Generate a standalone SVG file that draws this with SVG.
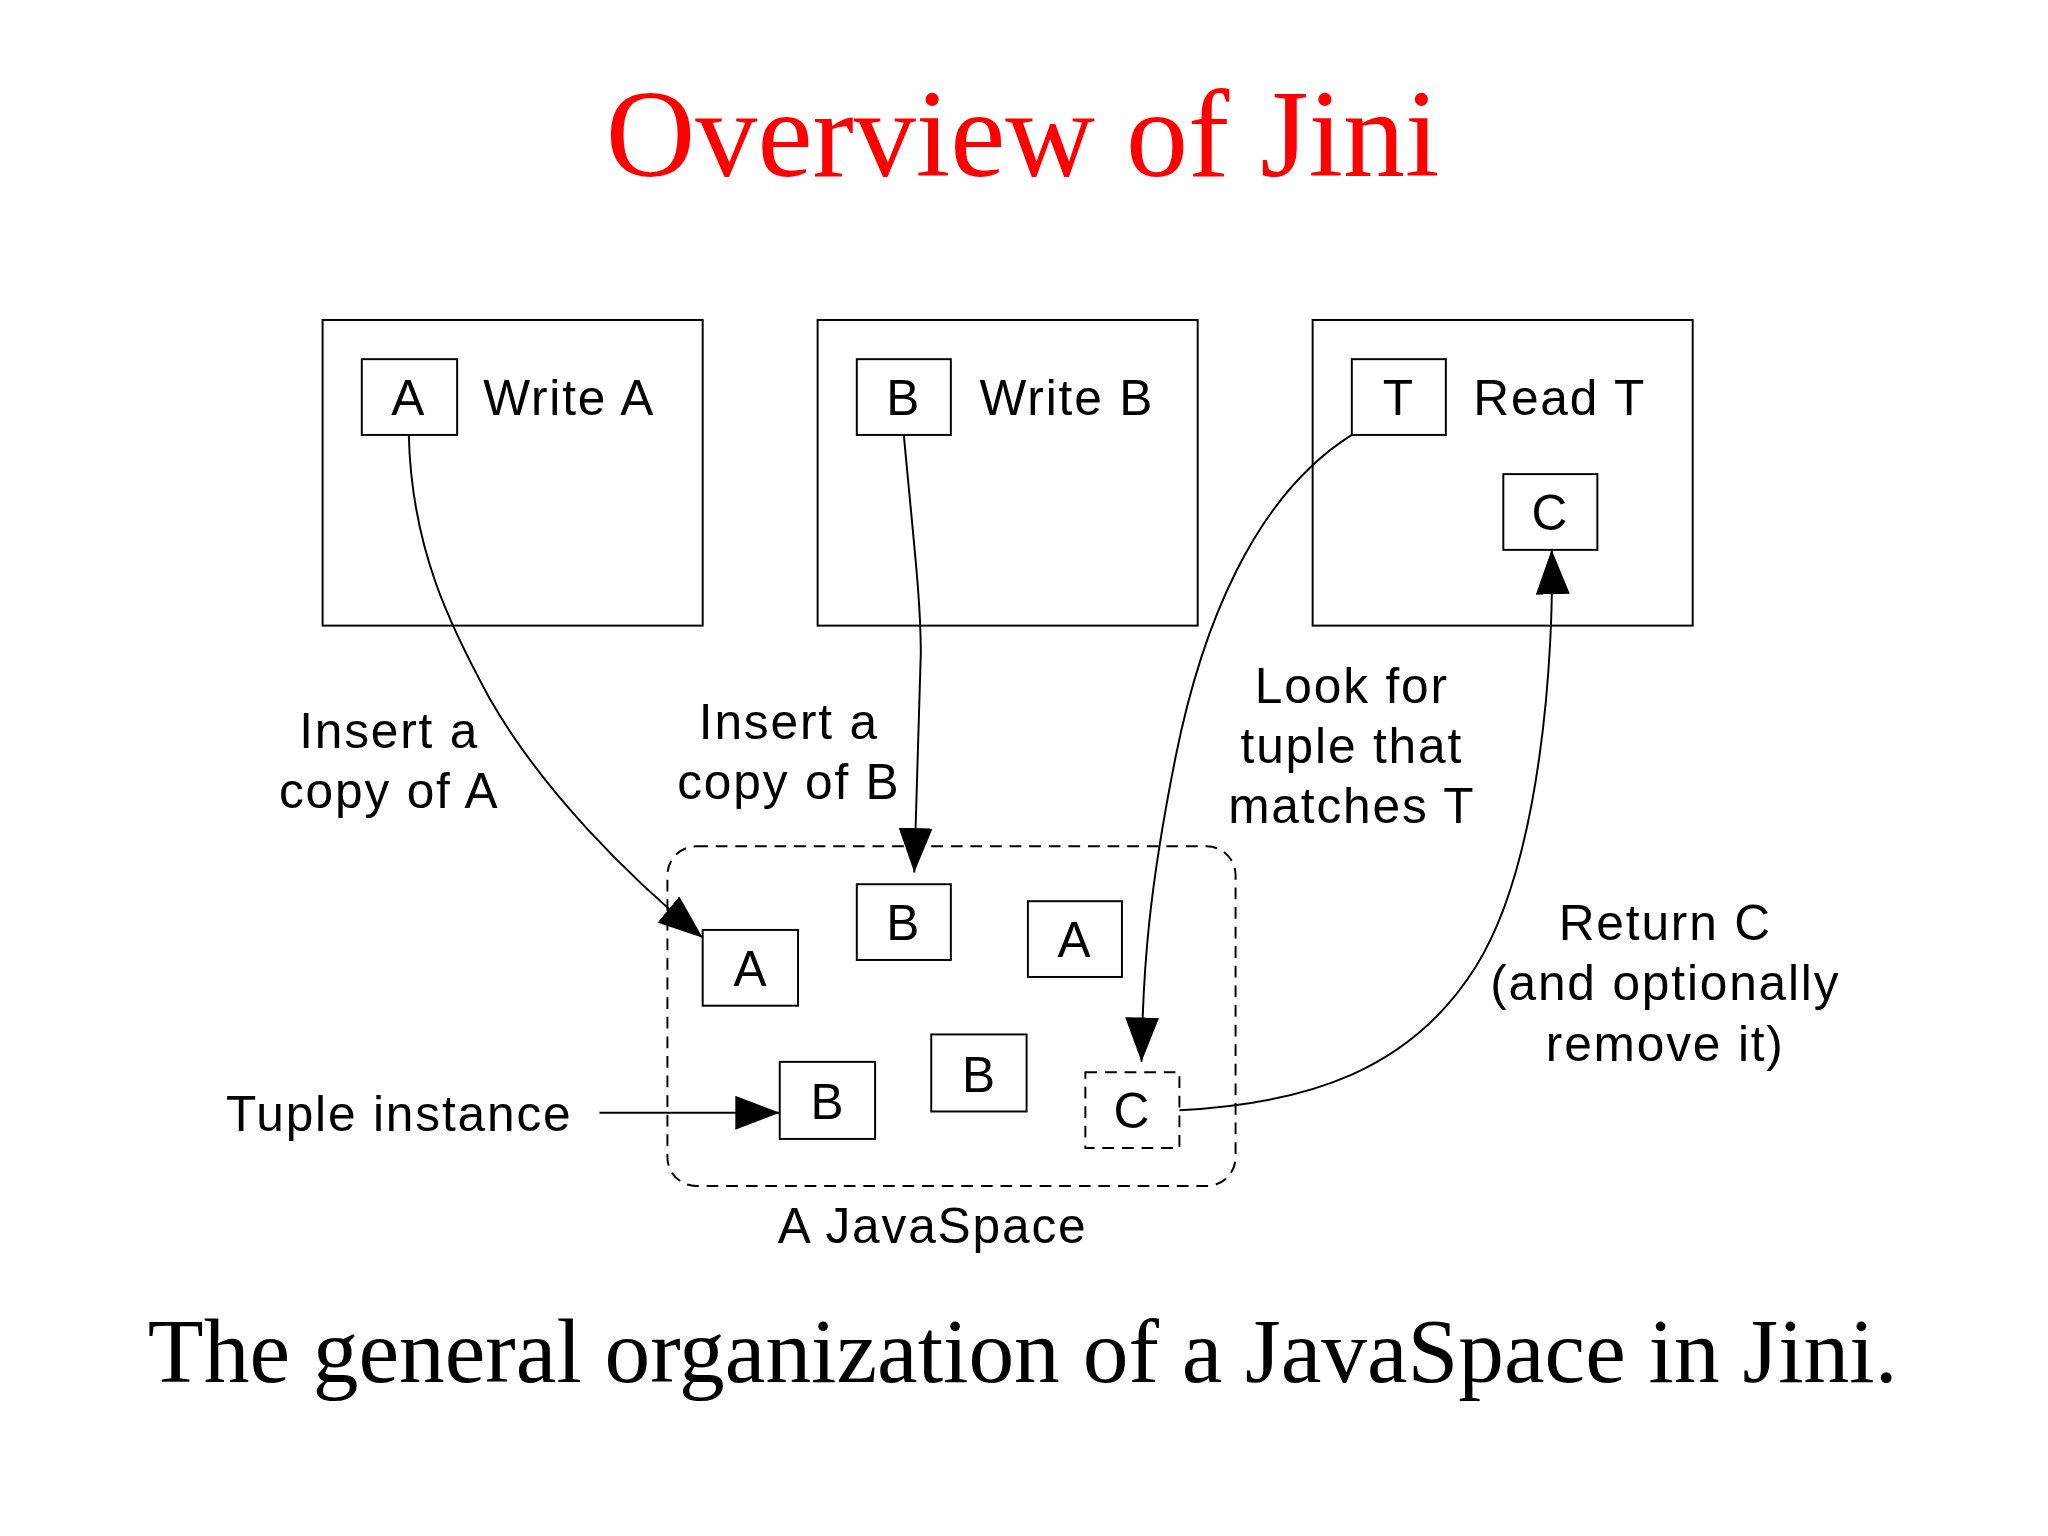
<svg xmlns="http://www.w3.org/2000/svg" width="2048" height="1536" viewBox="0 0 2048 1536">
<style>
.bx{fill:#fff;stroke:#000;stroke-width:1.5}
.ds{fill:none;stroke:#000;stroke-width:1.5;stroke-dasharray:9,6}
.t{font-family:"Liberation Sans",Arial,sans-serif;font-size:38px;letter-spacing:1.4px;fill:#000}
.c{text-anchor:middle}
.ln{fill:none;stroke:#000;stroke-width:1.5}
</style>
<defs>
<marker id="ah" markerUnits="userSpaceOnUse" markerWidth="36" markerHeight="26" refX="34" refY="13" orient="auto">
<path d="M0,0 L34,13 L0,26 Z" fill="#000"/>
</marker>
</defs>
<rect width="2048" height="1536" fill="#fff"/>
<g transform="scale(1.3061)">
<text x="783" y="135" text-anchor="middle" font-family="Liberation Serif,Times New Roman,serif" font-size="95" fill="#f00">Overview of Jini</text>
<g id="writeA"><rect class="bx" x="247" y="245" width="291" height="234"/><rect class="bx" x="277" y="275" width="73" height="58"/><text class="t c" x="313" y="318">A</text><text class="t" x="370" y="318">Write A</text></g>
<g id="writeB"><rect class="bx" x="626" y="245" width="291" height="234"/><rect class="bx" x="656" y="275" width="72" height="58"/><text class="t c" x="692" y="318">B</text><text class="t" x="750" y="318">Write B</text></g>
<g id="readT"><rect class="bx" x="1005" y="245" width="291" height="234"/><rect class="bx" x="1035" y="275" width="72" height="58"/><text class="t c" x="1071" y="318">T</text><text class="t" x="1128" y="318">Read T</text>
<rect class="bx" x="1151" y="363" width="72" height="58"/><text class="t c" x="1187" y="406">C</text></g>
<g id="javaspace"><rect class="ds" x="511" y="648" width="435" height="260" rx="22"/>
<rect class="bx" x="538" y="712" width="73" height="58"/><text class="t c" x="575" y="755">A</text>
<rect class="bx" x="656" y="677" width="72" height="58"/><text class="t c" x="692" y="720">B</text>
<rect class="bx" x="787" y="690" width="72" height="58"/><text class="t c" x="823" y="733">A</text>
<rect class="bx" x="597" y="813" width="73" height="59"/><text class="t c" x="634" y="857">B</text>
<rect class="bx" x="713" y="792" width="73" height="59"/><text class="t c" x="750" y="836">B</text>
<rect class="ds" x="831" y="821" width="72" height="58"/><text class="t c" x="867" y="864">C</text>
<text class="t c" x="714" y="952">A JavaSpace</text></g>
<g id="labels">
<text class="t c" x="298" y="573">Insert a</text><text class="t c" x="298" y="619">copy of A</text>
<text class="t c" x="604" y="566">Insert a</text><text class="t c" x="604" y="612">copy of B</text>
<text class="t c" x="1035" y="538">Look for</text><text class="t c" x="1035" y="584">tuple that</text><text class="t c" x="1035" y="630">matches T</text>
<text class="t c" x="1275" y="720">Return C</text><text class="t c" x="1275" y="766">(and optionally</text><text class="t c" x="1275" y="812">remove it)</text>
<text class="t" x="173" y="866">Tuple instance</text>
</g>
<g id="connectors">
<path class="ln" marker-end="url(#ah)" d="M313,333 C315,420 345,480 375,535 C415,605 480,670 538,718"/>
<path class="ln" marker-end="url(#ah)" d="M692,333 C700,420 705,460 705,500 L700,668"/>
<path class="ln" marker-end="url(#ah)" d="M1035,333 C960,380 920,480 900,580 C880,680 875,740 874,813"/>
<path class="ln" marker-end="url(#ah)" d="M903,850 C1000,845 1080,820 1130,740 C1180,660 1190,500 1188,421"/>
<path class="ln" marker-end="url(#ah)" d="M459,852 L597,852"/>
</g>
<text x="783" y="1058" text-anchor="middle" font-family="Liberation Serif,Times New Roman,serif" font-size="70" fill="#000">The general organization of a JavaSpace in Jini.</text>
</g>
</svg>
